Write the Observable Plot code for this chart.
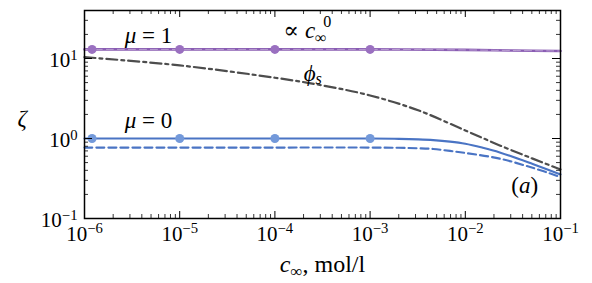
<!DOCTYPE html>
<html>
<head>
<meta charset="utf-8">
<script src="https://cdn.jsdelivr.net/npm/d3@7"></script>
<script src="https://cdn.jsdelivr.net/npm/@observablehq/plot@0.6"></script>
<style>
  html, body { margin: 0; padding: 0; background: #fff; }
  #chart svg { display: block; }
  #chart svg text { font-family: "Liberation Serif", "DejaVu Serif", serif; }
</style>
</head>
<body>
<div id="chart"></div>
<script>
// ---- data ----
const xTicks = [1e-6, 1e-5, 1e-4, 1e-3, 1e-2, 1e-1];
const xTickLabels = ["10^−6", "10^−5", "10^−4", "10^−3", "10^−2", "10^−1"];
const yTicks = [0.1, 1, 10];
const yTickLabels = ["10^−1", "10^0", "10^1"];

// mu = 1 (purple)
const mu1X = [1e-6, 1e-4, 1e-3, 1e-2, 3e-2, 1e-1];
const mu1Y = [13.0, 13.0, 13.0, 12.8, 12.6, 12.4];
// mu = 0 solid (blue)
const mu0X = [1e-6, 1e-5, 1e-4, 1e-3, 2e-3, 3.2e-3, 4.6e-3, 6.9e-3, 1e-2, 1.5e-2, 2.3e-2, 5.1e-2, 1e-1];
const mu0Y = [1.0, 1.0, 1.0, 1.0, 0.99, 0.975, 0.955, 0.915, 0.86, 0.77, 0.67, 0.48, 0.355];
// mu = 0 dashed (blue)
const mu0dX = [1e-6, 1e-4, 1e-3, 2e-3, 3.2e-3, 4.6e-3, 6.9e-3, 1e-2, 2.3e-2, 5.1e-2, 1e-1];
const mu0dY = [0.77, 0.77, 0.77, 0.765, 0.755, 0.74, 0.70, 0.66, 0.56, 0.43, 0.33];
// phi_s (dash-dot grey)
const phiX = [1e-6, 1e-5, 1e-4, 3.2e-4, 1e-3, 3.2e-3, 1e-2, 2.3e-2, 5.1e-2, 1e-1];
const phiY = [10.4, 8.2, 5.75, 4.6, 3.45, 2.25, 1.26, 0.82, 0.56, 0.41];
// markers
const dotX = [1.2e-6, 1e-5, 1e-4, 1e-3];
const dotMu1Y = [13.0, 13.0, 13.0, 13.0];
const dotMu0Y = [1.0, 1.0, 1.0, 1.0];

// ---- helpers ----
const zip = (xs, ys) => xs.map((x, i) => ({x, y: ys[i]}));
const minorX = [];
for (let e = -6; e < -1; e++) for (let k = 2; k <= 9; k++) minorX.push(k * 10 ** e);
const minorY = [];
for (let e = -1; e < 1; e++) for (let k = 2; k <= 9; k++) minorY.push(k * 10 ** e);
minorY.push(20, 30);

const W = 592, H = 283, mL = 84, mR = 32, mT = 10, mB = 65;
const iW = W - mL - mR, iH = H - mT - mB;
const font = "Liberation Serif";

const purple = "#8a5db3", purpleDot = "#9a70c0";
const blue = "#4a74c4", blueDot = "#7399da";
const grey = "#4d4d4d";
const T = {fill: "black", fontFamily: font};

const plot = Plot.plot({
  width: W, height: H,
  marginLeft: mL, marginRight: mR, marginTop: mT, marginBottom: mB,
  x: {type: "log", domain: [1e-6, 1e-1], axis: null},
  y: {type: "log", domain: [0.1, 10 ** 1.6], axis: null},
  style: {background: "white"},
  marks: [
    // curves
    Plot.line(zip(phiX, phiY), {x: "x", y: "y", stroke: grey, strokeWidth: 2.2, strokeDasharray: "11,4,3,4", curve: "catmull-rom"}),
    Plot.line(zip(mu0dX, mu0dY), {x: "x", y: "y", stroke: blue, strokeWidth: 2.1, strokeDasharray: "8,4", curve: "catmull-rom"}),
    Plot.line(zip(mu0X, mu0Y), {x: "x", y: "y", stroke: blue, strokeWidth: 2.1, curve: "catmull-rom"}),
    Plot.line(zip(mu1X, mu1Y), {x: "x", y: "y", stroke: purple, strokeWidth: 2.6, curve: "catmull-rom"}),
    Plot.line(zip(mu1X, mu1Y), {x: "x", y: "y", stroke: "white", strokeWidth: 0.7, strokeOpacity: 0.6, strokeDasharray: "7,4", curve: "catmull-rom"}),
    Plot.dot(zip(dotX, dotMu1Y), {x: "x", y: "y", r: 4.5, fill: purpleDot}),
    Plot.dot(zip(dotX, dotMu0Y), {x: "x", y: "y", r: 4.5, fill: blueDot}),
    // ticks (inward)
    Plot.ruleX(xTicks, {x: d => d, insetTop: iH - 7, stroke: "black", strokeWidth: 1}),
    Plot.ruleX(xTicks, {x: d => d, insetBottom: iH - 7, stroke: "black", strokeWidth: 1}),
    Plot.ruleX(minorX, {x: d => d, insetTop: iH - 4, stroke: "black", strokeWidth: 0.8}),
    Plot.ruleX(minorX, {x: d => d, insetBottom: iH - 4, stroke: "black", strokeWidth: 0.8}),
    Plot.ruleY(yTicks, {y: d => d, insetRight: iW - 8, stroke: "black", strokeWidth: 1}),
    Plot.ruleY(yTicks, {y: d => d, insetLeft: iW - 8, stroke: "black", strokeWidth: 1}),
    Plot.ruleY(minorY, {y: d => d, insetRight: iW - 4, stroke: "black", strokeWidth: 0.8}),
    Plot.ruleY(minorY, {y: d => d, insetLeft: iW - 4, stroke: "black", strokeWidth: 0.8}),
    Plot.frame({stroke: "black", strokeWidth: 1.5}),
    // tick labels
    Plot.text(xTicks, {x: d => d, text: (d, i) => xTickLabels[i], frameAnchor: "bottom", lineAnchor: "bottom", dy: 22, fontSize: 21, ...T}),
    Plot.text(yTicks, {y: d => d, text: (d, i) => yTickLabels[i], frameAnchor: "left", textAnchor: "end", lineAnchor: "middle", dx: -7, dy: 2, fontSize: 21, ...T}),
    // axis labels
    Plot.text(["ζ"], {frameAnchor: "left", dx: -67, dy: 4, fontSize: 23, ...T}),
    Plot.text(["c∞, mol/l"], {frameAnchor: "bottom", lineAnchor: "bottom", dy: 53, fontSize: 24, ...T}),
    // annotations
    Plot.text(["μ = 1"], {x: 4.7e-6, y: 15.8, lineAnchor: "bottom", fontSize: 23, ...T}),
    Plot.text(["μ = 0"], {x: 4.7e-6, y: 1.37, lineAnchor: "bottom", fontSize: 23, ...T}),
    Plot.text(["∝ c∞0"], {x: 2.2e-4, y: 17.8, lineAnchor: "bottom", fontSize: 23, ...T}),
    Plot.text(["ϕs"], {x: 2.5e-4, y: 5.3, lineAnchor: "bottom", fontSize: 23, ...T}),
    Plot.text(["(a)"], {x: 4.2e-2, y: 0.21, lineAnchor: "bottom", fontSize: 23, ...T})
  ]
});

const rich = {
  "ζ": '<tspan font-style="italic">ζ</tspan>',
  "c∞, mol/l": '<tspan font-style="italic">c</tspan><tspan font-size="0.7em" dy="0.3em">∞</tspan><tspan dy="-0.21em">, mol/l</tspan>',
  "μ = 1": '<tspan font-style="italic">μ</tspan> = 1',
  "μ = 0": '<tspan font-style="italic">μ</tspan> = 0',
  "∝ c∞0": '∝ <tspan font-style="italic">c</tspan><tspan font-size="0.7em" dy="0.3em">∞</tspan><tspan font-size="0.7em" dx="-0.2em" dy="-1.0em">0</tspan>',
  "ϕs": '<tspan font-style="italic">ϕ</tspan><tspan font-style="italic" font-size="0.7em" dy="0.2em">s</tspan>',
  "(a)": '(<tspan font-style="italic">a</tspan>)'
};
plot.querySelectorAll("text").forEach(t => {
  const s = t.textContent;
  if (rich[s]) t.innerHTML = rich[s];
  else if (s.includes("^")) {
    const [b, e] = s.split("^");
    t.innerHTML = `${b}<tspan dy="-0.48em" font-size="0.7em">${e}</tspan>`;
  }
});
document.getElementById("chart").appendChild(plot);
</script>
</body>
</html>
